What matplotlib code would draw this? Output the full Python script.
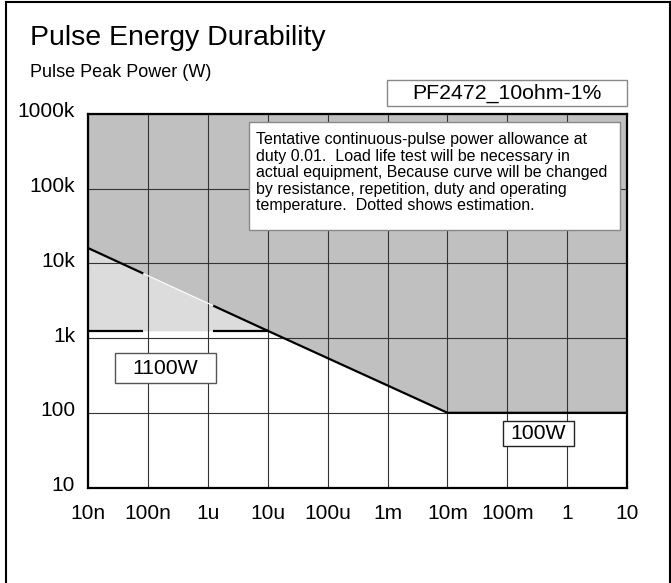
import matplotlib
matplotlib.use("Agg")
import matplotlib.pyplot as plt
import matplotlib.transforms as mtransforms
from matplotlib.patches import Rectangle

plt.rcParams["font.family"] = ["Liberation Sans", "DejaVu Sans"]
plt.rcParams["lines.scale_dashes"] = False

# pulse width (s) and allowed peak power (W)
pulse_t = [1e-8, 1e-5, 1e-2, 10]
pulse_p = [16000, 1250, 100, 100]
# estimated (dotted) part
est_t = [1e-8, 1e-5]
est_p = [16000, 1250]
knee_p = [1250, 1250]

xticks = [1e-8, 1e-7, 1e-6, 1e-5, 1e-4, 1e-3, 1e-2, 1e-1, 1, 10]
xlabels = ["10n", "100n", "1u", "10u", "100u", "1m", "10m", "100m", "1", "10"]
yticks = [10, 100, 1e3, 1e4, 1e5, 1e6]
ylabels = ["10", "100", "1k", "10k", "100k", "1000k"]

W, H = 671, 583
fig = plt.figure(figsize=(W / 100, H / 100), dpi=100)


def fx(x):
    return x / W


def fy(y):
    return 1 - y / H


ax = fig.add_axes([fx(88.3), fy(487.5), fx(627) - fx(88.3), fy(114) - fy(487.5)])
ax.set_xscale("log")
ax.set_yscale("log")
ax.set_xlim(1e-8, 10)
ax.set_ylim(10, 1e6)

# shaded areas
ax.fill_between(pulse_t, pulse_p, 1e6, color="#c0c0c0", lw=0, zorder=1)
ax.fill_between(est_t, knee_p, est_p, color="#dcdcdc", lw=0, zorder=1.1)

ax.grid(True, which="major", color="#333333", lw=0.8, zorder=1.5)
ax.minorticks_off()

# measured curve (solid) and estimated part (dashed)
ax.plot(pulse_t[1:], pulse_p[1:], color="black", lw=1.6, zorder=3)
ax.plot(est_t, est_p, color="white", lw=0.8, zorder=2.5)
ax.plot(est_t, est_p, color="black", lw=1.6, dashes=(43.6, 55.4), zorder=3)
ax.plot(est_t, knee_p, color="black", lw=1.6, dashes=(39.6, 50.4), zorder=3)

ax.set_xticks(xticks)
ax.set_xticklabels(xlabels)
ax.set_yticks(yticks)
ax.set_yticklabels(ylabels)
ax.tick_params(axis="both", length=0, labelsize=15)
ax.tick_params(axis="x", pad=12)
ax.tick_params(axis="y", pad=9.5)
shift = mtransforms.ScaledTranslation(0, 4 / 100, fig.dpi_scale_trans)
for lab in ax.get_yticklabels():
    lab.set_transform(lab.get_transform() + shift)

for s in ax.spines.values():
    s.set_linewidth(1.6)
    s.set_zorder(4)

# outer frame
fig.add_artist(plt.Line2D([fx(6), fx(6)], [0, fy(2)], color="black", lw=1.5))
fig.add_artist(plt.Line2D([fx(6), fx(669.5)], [fy(2), fy(2)], color="black", lw=1.5))
fig.add_artist(plt.Line2D([fx(669.5), fx(669.5)], [0, fy(2)], color="black", lw=1.5))

fig.text(fx(30), fy(45), "Pulse Energy Durability", fontsize=20.5, va="baseline")
fig.text(fx(30), fy(77), "Pulse Peak Power (W)", fontsize=13, va="baseline")


def box(x0, y0, x1, y1, edge="#888888"):
    fig.add_artist(Rectangle((fx(x0), fy(y1)), fx(x1) - fx(x0), fy(y0) - fy(y1),
                             transform=fig.transFigure, facecolor="white",
                             edgecolor=edge, lw=1, zorder=5))


box(387, 80, 627, 106)
fig.text(fx(507), fy(93), "PF2472_10ohm-1%", fontsize=15.3, ha="center", va="center", zorder=6)

box(249, 122, 620, 230)
note = ("Tentative continuous-pulse power allowance at\n"
        "duty 0.01.  Load life test will be necessary in\n"
        "actual equipment, Because curve will be changed\n"
        "by resistance, repetition, duty and operating\n"
        "temperature.  Dotted shows estimation.")
fig.text(fx(256), fy(132), note, fontsize=11.5, ha="left", va="top", linespacing=1.13, zorder=6)

box(115, 353, 216, 383, edge="#555555")
fig.text(fx(165.5), fy(368), "1100W", fontsize=15.3, ha="center", va="center", zorder=6)

box(503, 421, 574, 446, edge="#222222")
fig.text(fx(538.5), fy(433.5), "100W", fontsize=15.3, ha="center", va="center", zorder=6)

fig.savefig("out.png", dpi=100)
